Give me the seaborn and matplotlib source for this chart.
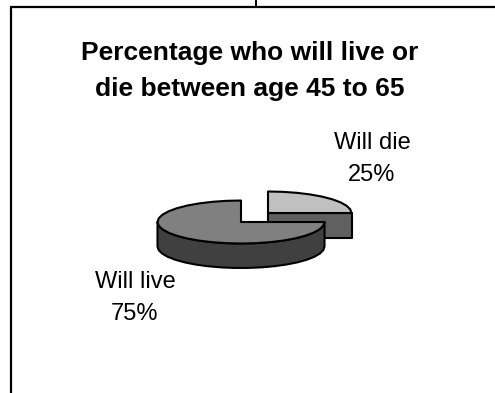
import numpy as np
import matplotlib
matplotlib.use("Agg")
import matplotlib.pyplot as plt
import seaborn as sns

categories = ["Will die", "Will live"]
shares = [25, 75]
title_lines = ["Percentage who will live or", "die between age 45 to 65"]

sns.set_theme(style="white")
plt.rcParams['font.family'] = ['Liberation Sans', 'DejaVu Sans']
top_colors = sns.color_palette(["#C0C0C0", "#808080"])
side_colors = sns.color_palette(["#606060", "#404040"])

fig = plt.figure(figsize=(4.95, 3.93), dpi=100, facecolor="white")
ax = fig.add_axes([0, 0, 1, 1])
ax.set_xlim(0, 495)
ax.set_ylim(393, 0)
ax.axis("off")

# chart frame
ax.plot([495, 11, 11], [6.5, 6.5, 393], color="black", lw=1.6, solid_joinstyle="miter", zorder=1)
ax.plot([256, 256], [0, 6], color="black", lw=1.4, zorder=1)

centers = [(268, 213), (241, 222)]
rx, ry, depth = 83.5, 21.5, 24.5
edge = dict(edgecolor="black", linewidth=1.5, joinstyle="round")

fractions = np.array(shares) / sum(shares)
start = 90.0
for i, frac in enumerate(fractions):
    end = start - 360 * frac
    cx, cy = centers[i]
    th = np.radians(np.linspace(start, end, 10 if i == 0 else 28))
    xs, ys = cx + rx * np.cos(th), cy - ry * np.sin(th)
    z = 2 + i
    # side walls
    if i == 0:
        ex, ey = cx + rx * np.cos(th[-1]), cy - ry * np.sin(th[-1])
        ax.fill([cx, ex, ex, cx], [cy, ey, ey + depth, cy + depth],
                facecolor=side_colors[i], zorder=z, **edge)
    else:
        wall = np.radians(np.linspace(180, 360, 20))
        wx, wy = cx + rx * np.cos(wall), cy - ry * np.sin(wall)
        ax.fill(np.r_[wx, wx[::-1]], np.r_[wy, wy[::-1] + depth],
                facecolor=side_colors[i], zorder=z, **edge)
    # top face
    ax.fill(np.r_[cx, xs], np.r_[cy, ys], facecolor=top_colors[i], zorder=z + 0.5, **edge)
    start = end

ax.text(250, 71, "\n".join(title_lines), ha="center", va="center", fontsize=19,
        fontweight="bold", color="black", linespacing=1.6)

label_pos = [(372, 159), (135, 298)]
for cat, val, (lx, ly) in zip(categories, shares, label_pos):
    ax.text(lx, ly, f"{cat}\n{val}%", ha="center", va="center", fontsize=17,
            color="black", linespacing=1.55)

fig.savefig("out.png", dpi=100, facecolor="white")
